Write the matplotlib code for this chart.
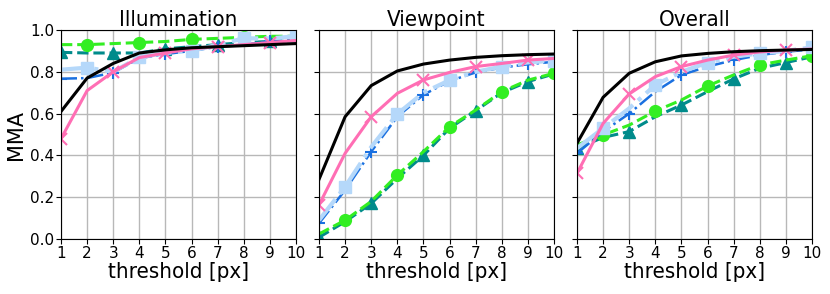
import numpy as np
import matplotlib
matplotlib.use('Agg')
import matplotlib.pyplot as plt

# thresholds
thr = np.arange(1, 11)

titles = ['Illumination', 'Viewpoint', 'Overall']

# MMA per method, one list per panel (illumination, viewpoint, overall)
black_mma = [
	[0.61, 0.77, 0.84, 0.89, 0.905, 0.915, 0.92, 0.925, 0.93, 0.935],
	[0.285, 0.585, 0.734, 0.804, 0.837, 0.856, 0.869, 0.877, 0.882, 0.885],
	[0.458, 0.678, 0.793, 0.848, 0.876, 0.888, 0.896, 0.901, 0.904, 0.907],
]
pink_mma = [
	[0.48, 0.71, 0.80, 0.868, 0.89, 0.91, 0.92, 0.93, 0.94, 0.95],
	[0.163, 0.41, 0.585, 0.697, 0.761, 0.797, 0.825, 0.84, 0.856, 0.864],
	[0.314, 0.553, 0.694, 0.777, 0.825, 0.856, 0.88, 0.895, 0.904, 0.909],
]
lightblue_mma = [
	[0.81, 0.82, 0.80, 0.87, 0.89, 0.90, 0.93, 0.96, 0.96, 0.97],
	[0.09, 0.25, 0.44, 0.598, 0.70, 0.76, 0.80, 0.825, 0.845, 0.853],
	[0.434, 0.53, 0.625, 0.737, 0.80, 0.844, 0.872, 0.888, 0.90, 0.917],
]
blue_mma = [
	[0.767, 0.77, 0.796, 0.865, 0.885, 0.90, 0.92, 0.93, 0.945, 0.95],
	[0.075, 0.234, 0.418, 0.585, 0.69, 0.756, 0.797, 0.82, 0.836, 0.848],
	[0.41, 0.514, 0.60, 0.705, 0.785, 0.825, 0.856, 0.88, 0.896, 0.907],
]
green_mma = [
	[0.93, 0.93, 0.935, 0.94, 0.945, 0.955, 0.96, 0.965, 0.97, 0.97],
	[0.024, 0.09, 0.18, 0.306, 0.418, 0.537, 0.617, 0.705, 0.76, 0.793],
	[0.45, 0.498, 0.545, 0.612, 0.665, 0.732, 0.785, 0.833, 0.856, 0.877],
]
teal_mma = [
	[0.893, 0.89, 0.89, 0.89, 0.91, 0.92, 0.93, 0.94, 0.945, 0.95],
	[0.008, 0.083, 0.17, 0.29, 0.40, 0.53, 0.614, 0.70, 0.753, 0.79],
	[0.434, 0.486, 0.514, 0.585, 0.641, 0.705, 0.766, 0.817, 0.844, 0.872],
]

styles = [
	(teal_mma, dict(color='#008b8b', ls='--', lw=2.2, marker='^', ms=8.5, markevery=(0, 2))),
	(green_mma, dict(color='#33ee22', ls='--', lw=2.2, marker='o', ms=8.5, markevery=(1, 2))),
	(blue_mma, dict(color='#1a70e0', ls='-.', lw=1.8, marker='+', ms=9, mew=1.5, markevery=(0, 2))),
	(lightblue_mma, dict(color='#b5d8fa', ls='-.', lw=3, marker='s', ms=8, markevery=(1, 2))),
	(pink_mma, dict(color='#ff6eb4', ls='-', lw=2.2, marker='x', ms=9, mew=1.5, markevery=(0, 2))),
	(black_mma, dict(color='black', ls='-', lw=2.2)),
]

lab_font = dict(family='DejaVu Sans', stretch='condensed', fontsize=16)

fig = plt.figure(figsize=(8.3, 2.94), dpi=100)
lefts = [61/830, 319/830, 577/830]
w = 235/830
for i in range(3):
	ax = fig.add_axes([lefts[i], 55/294, w, 209/294])
	for data, st in styles:
		ax.plot(thr, data[i], **st)
	ax.set_xlim(1, 10)
	ax.set_ylim(0, 1)
	ax.set_xticks(thr)
	ax.set_yticks(np.arange(0, 1.01, 0.2))
	ax.grid(True, color='#b8b8b8', lw=1)
	ax.set_axisbelow(True)
	ax.set_title(titles[i], pad=3, **lab_font)
	ax.set_xlabel('threshold [px]', labelpad=1, **lab_font)
	ax.tick_params(labelsize=11, pad=1.5)
	if i == 0:
		ax.set_ylabel('MMA', fontsize=15, labelpad=3)
	else:
		ax.set_yticklabels([])

fig.savefig('out.png', dpi=100)
